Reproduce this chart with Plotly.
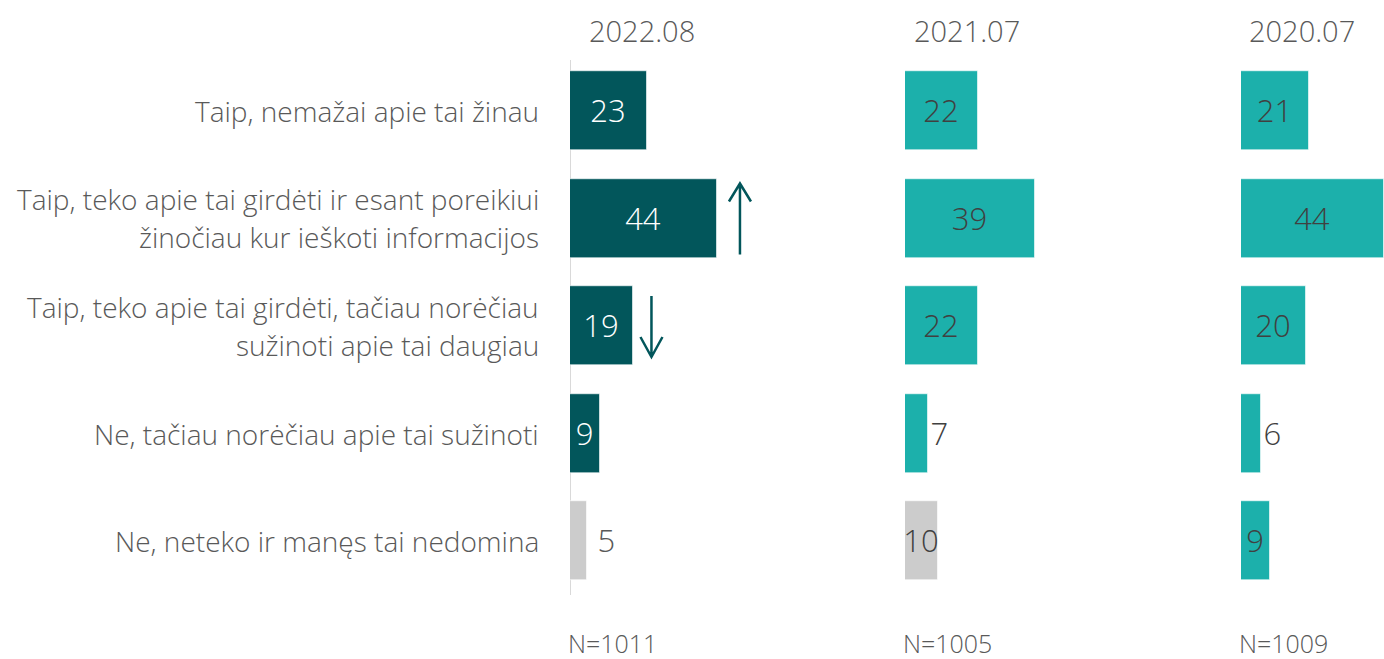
import plotly.graph_objects as go

# ---------------- data ----------------
categories = [
    "Taip, nemažai apie tai žinau",
    "Taip, teko apie tai girdėti ir esant poreikiui\nžinočiau kur ieškoti informacijos",
    "Taip, teko apie tai girdėti, tačiau norėčiau\nsužinoti apie tai daugiau",
    "Ne, tačiau norėčiau apie tai sužinoti",
    "Ne, neteko ir manęs tai nedomina",
]
waves = ["2022.08", "2021.07", "2020.07"]
sample_sizes = ["N=1011", "N=1005", "N=1009"]
values_2022 = [23, 44, 19, 9, 5]
values_2021 = [22, 39, 22, 7, 10]
values_2020 = [21, 44, 20, 6, 9]
changes_2022 = [None, "up", "down", None, None]

# ---------------- styles ----------------
W, H = 1384, 659
DARK = "#02565b"
TEAL = "#1cb0ab"
GREY = "#cccccc"
LABEL = "#595959"
VAL = "#404040"
FONT = "Segoe UI Light, Open Sans, Lato, sans-serif"

panel_left = [570, 905, 1241]
panel_width = [320, 320, W - 1241]
panel_range = [320 / 3.34, 320 / 3.34, 44.0]

bar_colors = [
    [DARK, DARK, DARK, DARK, GREY],
    [TEAL, TEAL, TEAL, TEAL, GREY],
    [TEAL, TEAL, TEAL, TEAL, TEAL],
]
text_pos = [
    ["inside", "inside", "inside", "inside", "outside"],
    ["inside", "inside", "inside", "outside", "inside"],
    ["inside", "inside", "inside", "outside", "inside"],
]
text_col = [
    ["white", "white", "white", "white", LABEL],
    [VAL] * 5,
    [VAL] * 5,
]

series = [values_2022, values_2021, values_2020]
ypos = list(range(len(categories)))

fig = go.Figure()
for i, vals in enumerate(series):
    xa = "x" if i == 0 else f"x{i+1}"
    labels = [(" " + str(v)) if (p == "outside" and c == GREY) else str(v)
              for v, p, c in zip(vals, text_pos[i], bar_colors[i])]
    fig.add_trace(go.Bar(
        x=vals, y=ypos, orientation="h", xaxis=xa, yaxis="y",
        width=0.735,
        marker=dict(color=bar_colors[i], line=dict(width=1, color="rgba(255,255,255,0.6)")),
        text=labels, textposition=text_pos[i],
        insidetextanchor="middle", constraintext="none", cliponaxis=False,
        textfont=dict(family=FONT, size=31, color=text_col[i], weight=300),
        hoverinfo="skip", showlegend=False,
    ))

top_px, bot_px = 57.25, 594.75
ydom = [1 - bot_px / H, 1 - top_px / H]

layout = dict(
    width=W, height=H, margin=dict(l=0, r=0, t=0, b=0),
    paper_bgcolor="white", plot_bgcolor="white",
    font=dict(family=FONT, color=LABEL),
    bargap=0,
    yaxis=dict(domain=ydom, range=[4.5, -0.5], visible=False, fixedrange=True),
)
for i in range(3):
    key = "xaxis" if i == 0 else f"xaxis{i+1}"
    layout[key] = dict(
        domain=[panel_left[i] / W, (panel_left[i] + panel_width[i]) / W],
        range=[0, panel_range[i]], visible=False, anchor="y",
    )
fig.update_layout(**layout)

# vertical baseline in first panel
fig.add_shape(type="line", xref="x", x0=0, x1=0, yref="paper",
              y0=1 - 595 / H, y1=1 - 60 / H,
              line=dict(color="#d9d9d9", width=2), layer="below")

annotations = []
# category labels
for j, cat in enumerate(categories):
    lines = cat.split("\n")
    n = len(lines)
    for k, ln in enumerate(lines):
        shift = (-(k - (n - 1) / 2)) * 38
        annotations.append(dict(
            text=ln, xref="paper", x=541 / W, xanchor="right",
            yref="y", y=j, yanchor="middle", yshift=shift,
            showarrow=False, font=dict(family=FONT, size=28, color=LABEL, weight=300),
        ))
# wave headers and N labels
header_off = [72, 62, 61]
for i in range(3):
    xr = "x domain" if i == 0 else f"x{i+1} domain"
    annotations.append(dict(
        text=waves[i], xref=xr, x=0, xshift=header_off[i], xanchor="center",
        yref="paper", y=1 - 31 / H, yanchor="middle",
        showarrow=False, font=dict(family=FONT, size=29, color=LABEL, weight=300),
    ))
    annotations.append(dict(
        text=sample_sizes[i], xref=xr, x=0, xshift=-3, xanchor="left",
        yref="paper", y=0, yanchor="bottom", yshift=-2, borderpad=0,
        showarrow=False, font=dict(family=FONT, size=25, color=LABEL, weight=300),
    ))
fig.update_layout(annotations=annotations)

# significance arrows
for j, ch in enumerate(changes_2022):
    if ch is None:
        continue
    v = values_2022[j]
    if ch == "up":
        dx = 23
        path = f"M {dx},-36 L {dx},35 M {dx-11},17 L {dx},35 L {dx+11},17"
    else:
        dx = 18
        path = f"M {dx},30 L {dx},-31 M {dx-11},-11 L {dx},-31 L {dx+11},-11"
    fig.add_shape(type="path", xref="x", xsizemode="pixel", xanchor=v,
                  yref="y", ysizemode="pixel", yanchor=j, path=path,
                  line=dict(color=DARK, width=2.5))

fig.write_html("out.html", config={"displayModeBar": False},
               post_script="document.body.style.margin='0';document.body.style.overflow='hidden';")
